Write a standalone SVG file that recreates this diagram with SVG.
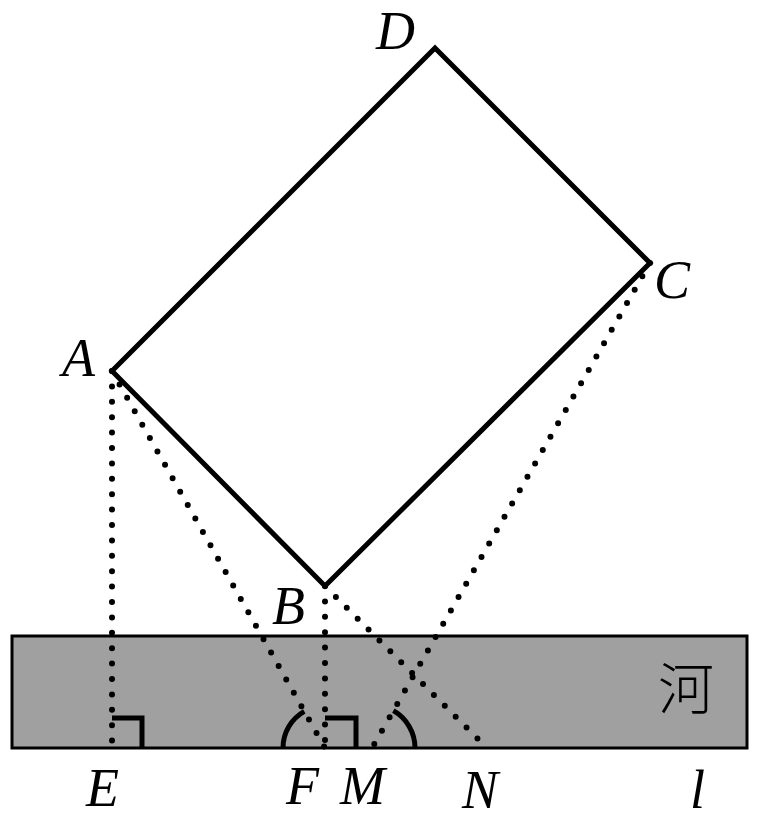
<svg xmlns="http://www.w3.org/2000/svg" width="761" height="821" viewBox="0 0 761 821">
<style>
.lbl{font-family:"Liberation Serif","Times New Roman",serif;font-style:italic;font-size:54px;fill:#000}
.solid{fill:none;stroke:#000;stroke-width:5;stroke-linejoin:miter}
.dot{fill:none;stroke:#000;stroke-width:6;stroke-linecap:round;stroke-dasharray:0 15.4}
.mark{fill:none;stroke:#000;stroke-width:5}
</style>
<rect width="761" height="821" fill="#fff"/>
<g id="river">
<rect x="12" y="636" width="735" height="112" fill="#a0a0a0" stroke="#000" stroke-width="3"/>
<text x="686" y="709" text-anchor="middle" font-family="'Noto Sans CJK SC',sans-serif" font-size="56" font-weight="300" fill="#000">河</text>
</g>
<g id="rectangle">
<polygon class="solid" points="112,371 325,586 650,263 435,48"/>
</g>
<g id="connectors">
<line class="dot" x1="112" y1="371" x2="112" y2="748"/>
<line class="dot" x1="112" y1="371" x2="325" y2="748"/>
<line class="dot" x1="325" y1="586" x2="325" y2="748"/>
<line class="dot" x1="325" y1="586" x2="487" y2="748"/>
<line class="dot" x1="650" y1="263" x2="372" y2="748"/>
</g>
<g id="marks">
<polyline class="mark" points="112,718 142,718 142,748"/>
<polyline class="mark" points="325,718 356,718 356,748"/>
<path class="mark" d="M283,748 A42,42 0 0 1 304.3,711.4"/>
<path class="mark" d="M393.4,710.7 A43,43 0 0 1 415,748"/>
</g>
<g id="labels">
<text class="lbl" x="376" y="49">D</text>
<text class="lbl" x="654" y="298">C</text>
<text class="lbl" x="62" y="376">A</text>
<text class="lbl" x="272" y="624">B</text>
<text class="lbl" x="86" y="806">E</text>
<text class="lbl" x="286" y="804">F</text>
<text class="lbl" x="340" y="804">M</text>
<text class="lbl" x="462" y="808">N</text>
<text class="lbl" x="690" y="808">l</text>
</g>
</svg>
